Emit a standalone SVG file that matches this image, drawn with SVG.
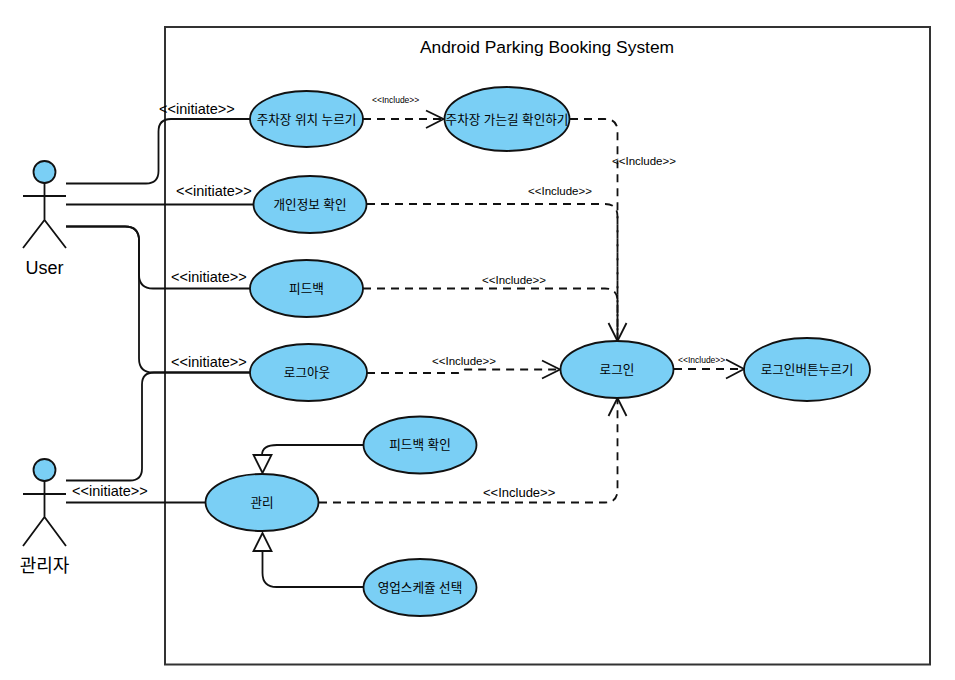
<svg xmlns="http://www.w3.org/2000/svg" width="955" height="680" viewBox="0 0 955 680">
<style>
text{font-family:"Liberation Sans","Noto Sans CJK KR",sans-serif;fill:#000}
.uc{fill:#7ACFF5;stroke:#111;stroke-width:1.8}
.uct{font-size:12.6px;text-anchor:middle}
.ln{fill:none;stroke:#111;stroke-width:1.8}
.ds{fill:none;stroke:#111;stroke-width:1.8;stroke-dasharray:8 6}
.ar{fill:none;stroke:#111;stroke-width:1.8}
.gen{fill:#fff;stroke:#111;stroke-width:1.8}
.ini{font-size:14.5px}
.inc{font-size:11.5px}
.incs{font-size:8.5px}
.act{font-size:18px;text-anchor:middle}
</style>
<rect width="955" height="680" fill="#fff"/>
<g id="system">
<rect x="165" y="27" width="765" height="637.5" fill="#fff" stroke="#333" stroke-width="2"/>
<text x="547" y="53" font-size="17.4" text-anchor="middle">Android Parking Booking System</text>
</g>
<g id="connectors">
<path class="ln" d="M66 183.500H146q12.500 0 12.500-12.500V131.500q0-12.500 12.500-12.500H250"/>
<path class="ln" d="M66 204.500H254"/>
<path class="ln" d="M66 226.500H125q14 0 14 14V274.500q0 14 14 14H250"/>
<path class="ln" d="M66 226.500H125q14 0 14 14V358.500q0 14 14 14H250"/>
<path class="ln" d="M66 480.500H130q12 0 12-12V384.500q0-12 12-12H250"/>
<path class="ln" d="M66 502.500H206"/>
<path class="ds" d="M363 119H443"/>
<path class="ar" d="M426 110.500L443.500 119L426 128"/>
<path class="ds" d="M570 119H605q12.500 0 12.500 12.500V340"/>
<path class="ds" d="M367 204H605q12.500 0 12.500 12.500V340"/>
<path class="ds" d="M363 288.500H605q12.500 0 12.500 12.500V340"/>
<path class="ar" d="M608.500 323L617.500 341L626.500 323"/>
<path class="ds" d="M367 373H457q4 0 8-3.500H559"/>
<path class="ar" d="M542 360.500L560 369.500L542 378.500"/>
<path class="ds" d="M319 502.500H605q12.500 0 12.500-12.500V399"/>
<path class="ar" d="M608.500 416L617.500 398L626.500 416"/>
<path class="ds" d="M674 369H743"/>
<path class="ar" d="M726 359.500L744 369L726 378.500"/>
<path class="ln" d="M363 445H277q-15 0-15 10"/>
<polygon class="gen" points="253.500,455 271.500,455 262.500,473"/>
<path class="ln" d="M262.500 551V573q0 14 14 14H363"/>
<polygon class="gen" points="253.500,551 271.500,551 262.500,533"/>
</g>
<g id="connector-labels">
<text class="ini" x="159" y="114">&lt;&lt;initiate&gt;&gt;</text>
<text class="ini" x="176" y="195.500">&lt;&lt;initiate&gt;&gt;</text>
<text class="ini" x="171" y="281.500">&lt;&lt;initiate&gt;&gt;</text>
<text class="ini" x="171" y="366.500">&lt;&lt;initiate&gt;&gt;</text>
<text class="ini" x="72" y="495.500">&lt;&lt;initiate&gt;&gt;</text>
<text class="incs" x="372" y="103">&lt;&lt;Include&gt;&gt;</text>
<text class="inc" x="612" y="165">&lt;&lt;Include&gt;&gt;</text>
<text class="inc" x="528" y="195">&lt;&lt;Include&gt;&gt;</text>
<text class="inc" x="482" y="284">&lt;&lt;Include&gt;&gt;</text>
<text class="inc" x="432" y="365">&lt;&lt;Include&gt;&gt;</text>
<text class="incs" x="678" y="363">&lt;&lt;Include&gt;&gt;</text>
<text class="inc" x="483" y="497" style="font-size:13px">&lt;&lt;Include&gt;&gt;</text>
</g>
<g id="actor-user">
<circle class="uc" cx="44.500" cy="172" r="11"/>
<path class="ln" d="M44.500 183V220M23 196H66M23 248L44.500 220L66 248"/>
<text class="act" x="44.500" y="274">User</text>
</g>
<g id="actor-admin">
<circle class="uc" cx="44.500" cy="470" r="11"/>
<path class="ln" d="M44.500 481V517M23 494H66M23 546L44.500 517L66 546"/>
<text class="act" x="44.500" y="572">관리자</text>
</g>
<g id="uc-location"><ellipse class="uc" cx="306.500" cy="119" rx="56.500" ry="28"/><text class="uct" x="306.500" y="123.500">주차장 위치 누르기</text></g>
<g id="uc-route"><ellipse class="uc" cx="507" cy="119" rx="62.500" ry="32"/><text class="uct" x="507" y="123.500">주차장 가는길 확인하기</text></g>
<g id="uc-profile"><ellipse class="uc" cx="310" cy="204.500" rx="56.500" ry="28.500"/><text class="uct" x="310" y="209">개인정보 확인</text></g>
<g id="uc-feedback"><ellipse class="uc" cx="306.500" cy="288.500" rx="56.500" ry="28.500"/><text class="uct" x="306.500" y="292.500">피드백</text></g>
<g id="uc-logout"><ellipse class="uc" cx="308.500" cy="372.500" rx="58.500" ry="28.500"/><text class="uct" x="307" y="376.500">로그아웃</text></g>
<g id="uc-login"><ellipse class="uc" cx="617" cy="369.500" rx="56.500" ry="28.500"/><text class="uct" x="617" y="373.500">로그인</text></g>
<g id="uc-loginbtn"><ellipse class="uc" cx="807" cy="369.500" rx="63" ry="31.500"/><text class="uct" x="807" y="373.500">로그인버튼누르기</text></g>
<g id="uc-feedbackcheck"><ellipse class="uc" cx="420" cy="445" rx="56.500" ry="28.500"/><text class="uct" x="420" y="449">피드백 확인</text></g>
<g id="uc-manage"><ellipse class="uc" cx="262" cy="502.500" rx="56.500" ry="28.500"/><text class="uct" x="262" y="506.500">관리</text></g>
<g id="uc-schedule"><ellipse class="uc" cx="420" cy="587.500" rx="56.500" ry="28.500"/><text class="uct" x="420" y="591.500">영업스케쥴 선택</text></g>
</svg>
